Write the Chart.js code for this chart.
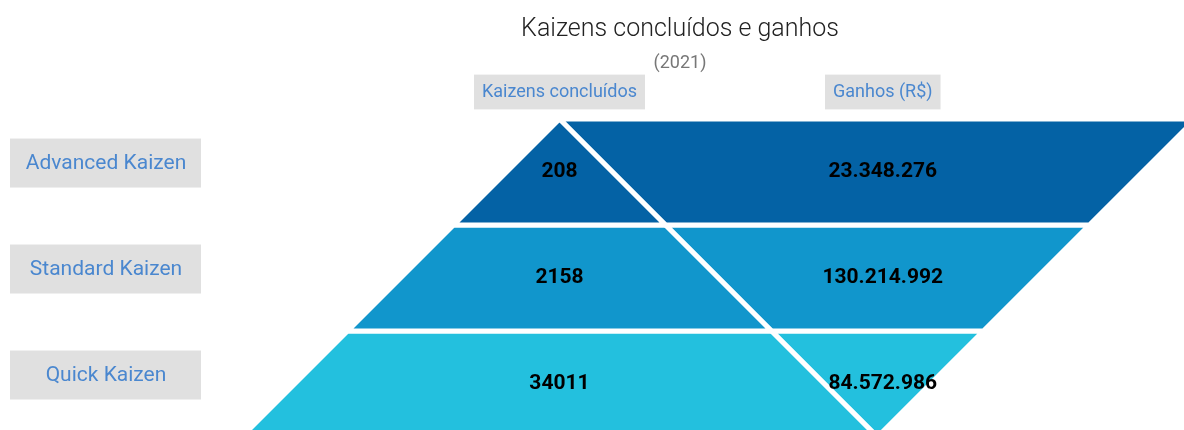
<!DOCTYPE html>
<html>
<head>
<meta charset="utf-8">
<script src="https://cdn.jsdelivr.net/npm/chart.js@4/dist/chart.umd.min.js"></script>
<style>
  html, body { margin: 0; padding: 0; background: #fff; }
  #wrap { width: 1184px; height: 430px; }
</style>
</head>
<body>
<div id="wrap"><canvas id="chart"></canvas></div>
<script>
// data
let categories = ["Advanced Kaizen", "Standard Kaizen", "Quick Kaizen"];
let kaizens = [208, 2158, 34011];
let ganhos = [23348276, 130214992, 84572986];
let columns = ["Kaizens concluídos", "Ganhos (R$)"];

// style
let colors = ["#0462a5", "#1196cc", "#23c0de"];
let colX = [0, 3.05];          // where the two columns sit on the x scale
let blue = "#4a87cf";
let n = categories.length;

function fmt(v) {
    return String(v).replace(/\B(?=(\d{3})+(?!\d))/g, ".");
}

// left triangle and right (upside down) triangle, cut into one band per level
function band(k, side) {
    let pts = side == 0
        ? [[k - n, k], [n - k, k], [n - k - 1, k + 1], [k + 1 - n, k + 1]]
        : [[n - k, k], [n + k, k], [n + k + 1, k + 1], [n - k - 1, k + 1]];
    let out = [];
    pts.forEach(p => {
        let last = out[out.length - 1];
        if (!last || last.x != p[0] || last.y != p[1]) out.push({ x: p[0], y: p[1] });
    });
    out.push(out[0]);
    return out;
}

let datasets = [];
categories.forEach((c, i) => {
    let k = n - 1 - i;
    [0, 1].forEach(side => {
        datasets.push({
            label: c + " " + columns[side],
            data: band(k, side),
            backgroundColor: colors[i],
            borderColor: "#fff",
            borderWidth: 5,
            borderJoinStyle: "miter",
            borderCapStyle: "round",
            fill: "shape",
            tension: 0,
            pointRadius: 0
        });
    });
});

const labelsPlugin = {
    id: "labels",
    afterDatasetsDraw(chart) {
        const { ctx, scales: { x, y } } = chart;
        ctx.save();
        ctx.textAlign = "center";
        ctx.textBaseline = "middle";
        categories.forEach((c, i) => {
            let yy = y.getPixelForValue(n - i - 0.5);
            ctx.font = "bold 21px Roboto";
            ctx.fillStyle = "#000";
            ctx.fillText(kaizens[i], x.getPixelForValue(colX[0]), yy);
            ctx.fillText(fmt(ganhos[i]), x.getPixelForValue(colX[1]), yy);

            // category box on the left
            let by = yy - 9;
            ctx.fillStyle = "#e0e0e0";
            ctx.fillRect(10, by - 24.5, 191, 49);
            ctx.font = "21px Roboto";
            ctx.fillStyle = blue;
            ctx.fillText(c, 106, by + 1);
        });
        ctx.restore();
    }
};

new Chart(document.getElementById("chart"), {
    type: "line",
    data: { datasets },
    options: {
        responsive: true,
        maintainAspectRatio: false,
        animation: false,
        layout: { padding: { left: 176, top: 3, right: 0, bottom: 0 } },
        plugins: {
            legend: { display: false },
            tooltip: { enabled: false },
            title: {
                display: true,
                text: "Kaizens concluídos e ganhos",
                color: "#222",
                font: { family: "Roboto", size: 25, weight: "300" },
                padding: { top: 12, bottom: 8 }
            },
            subtitle: {
                display: true,
                text: "(2021)",
                color: "#777",
                font: { family: "Roboto", size: 18 },
                padding: { top: 0, bottom: 0 }
            }
        },
        scales: {
            x: {
                type: "linear",
                position: "top",
                min: -3.618,
                max: 5.892,
                bounds: "data",
                grid: { display: false, drawTicks: false },
                border: { display: false },
                afterBuildTicks: s => { s.ticks = colX.map(v => ({ value: v })); },
                ticks: {
                    autoSkip: false,
                    maxRotation: 0,
                    padding: 6.6,
                    color: blue,
                    font: { family: "Roboto", size: 18 },
                    callback: (v, i) => columns[i],
                    showLabelBackdrop: true,
                    backdropColor: "#e0e0e0",
                    backdropPadding: { top: 7, bottom: 7, left: 8, right: 8 }
                }
            },
            y: {
                type: "linear",
                display: false,
                min: 0.066,
                max: 3.091,
                bounds: "data"
            }
        }
    },
    plugins: [labelsPlugin]
});
</script>
</body>
</html>
